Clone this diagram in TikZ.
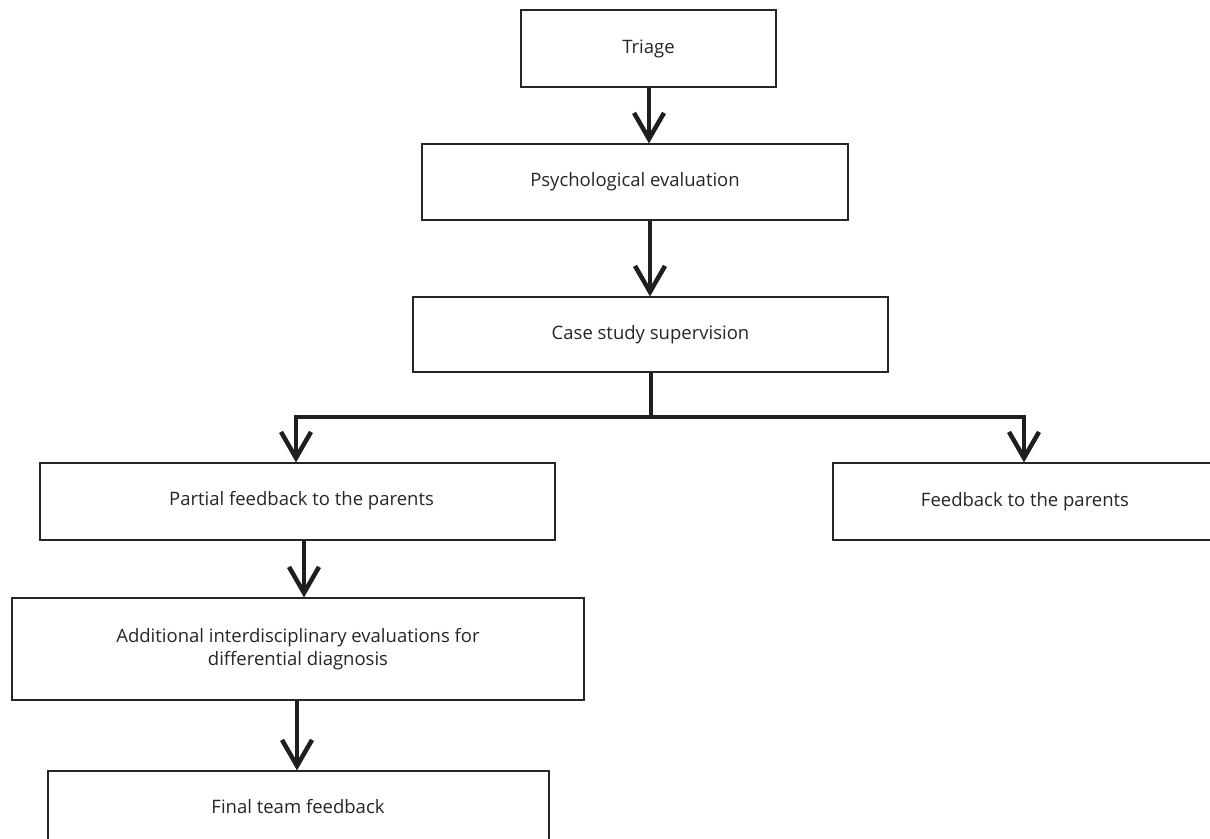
\documentclass[tikz,border=0pt]{standalone}
\usepackage{fontspec}
\setmainfont{Open Sans}
\usetikzlibrary{arrows.meta}
\begin{document}
\begin{tikzpicture}[x=1pt,y=-1pt,
  txt/.style={font=\fontsize{18.5}{23}\selectfont,text=black!85},
  box/.style={draw=black!85,line width=1.2pt,inner sep=0pt,txt,align=center},
  conn/.style={line width=4.5pt,draw=black!88,-{Straight Barb[length=26pt,width=30pt,line width=4.5pt]}}]
\useasboundingbox (0,0) rectangle (1210,838);
\node[box,minimum width=255pt,minimum height=77pt] (tri) at (648.5,48.5) {Triage};
\node[box,minimum width=426pt,minimum height=76pt] (psy) at (635,182) {Psychological evaluation};
\node[box,minimum width=475pt,minimum height=75pt] (case) at (650.5,334.5) {Case study supervision};
\node[box,minimum width=515pt,minimum height=77pt] (part) at (297.5,501.5) {};
\node[txt] (partt) at (301.5,501) {Partial feedback to the parents};
\node[box,minimum width=384pt,minimum height=77pt] (fb) at (1025,501.5) {Feedback to the parents};
\node[box,minimum width=572pt,minimum height=102pt] (add) at (298,649) {Additional interdisciplinary evaluations for\\differential diagnosis};
\node[box,minimum width=501pt,minimum height=120pt] (fin) at (298.5,831) {};
\node[txt] (fint) at (298,807) {Final team feedback};
\coordinate (j) at (651,417);
\draw[conn] (tri.south -| 649,0) -- (psy.north -| 649,0);
\draw[conn] (psy.south -| 650,0) -- (case.north -| 650,0);
\draw[line width=4.5pt,draw=black!88] (case.south -| j) -- (j);
\draw[conn] (j) -| (part.north -| 296,0);
\draw[conn] (j) -| (fb.north -| 1024,0);
\draw[conn] (part.south -| 304,0) -- (add.north -| 304,0);
\draw[conn] (add.south -| 297,0) -- (fin.north -| 297,0);
\end{tikzpicture}
\end{document}
